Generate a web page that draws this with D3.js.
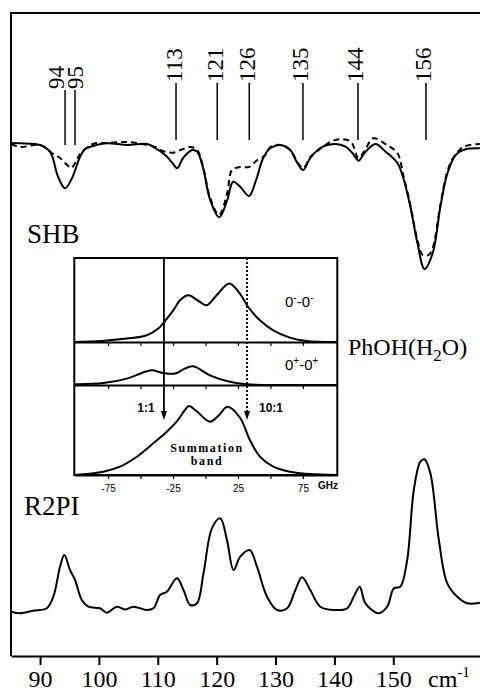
<!DOCTYPE html>
<html><head><meta charset="utf-8">
<script src="https://cdnjs.cloudflare.com/ajax/libs/d3/7.8.5/d3.min.js"></script>
<style>
html,body{margin:0;padding:0;background:#fff;}
svg{display:block;}
</style></head>
<body>
<svg id="chart" width="480" height="694"></svg>
<script>
// ---------- DATA ----------
const xTicks = [90, 100, 110, 120, 130, 140, 150];
const xUnit = "cm";
const xUnitSup = "-1";

const bandLabels = ["94", "95", "113", "121", "126", "135", "144", "156"];
const bandPositions = [94.25, 95.94, 113.1, 120.1, 125.54, 134.66, 144.0, 155.55];

// SHB spectrum, solid trace (depletion, arbitrary units)
const shbSolidFreq = [85.1, 86.6, 90.0, 91.7, 93.06, 94.25, 95.44, 96.8, 97.65, 99.0, 101.4, 104.8, 108.2, 109.56, 111.26, 112.45, 113.3, 114.3, 115.85, 116.7, 117.7, 118.9, 120.44, 121.8, 122.8, 124.0, 125.5, 126.7, 127.9, 129.1, 130.8, 132.5, 133.7, 134.7, 135.9, 137.6, 140.2, 141.9, 143.06, 144.1, 145.1, 147.0, 148.7, 150.7, 151.7, 152.9, 154.1, 155.3, 156.7, 158.0, 159.2, 160.6, 162.3, 164.7];
const shbSolidValues = [0, -0.3, -2, -8.7, -33.7, -45.3, -35, -13.7, -6, -3, -0.3, -2, -1, -5, -12, -19.7, -25.3, -15, -7, -8.7, -25, -57, -74.3, -57, -38.7, -43.7, -53, -37, -15, -5.3, -2, -7, -20, -27, -15, -5, -1, -3.7, -10, -17.7, -10, -1, -8.7, -20, -35, -63.7, -100, -126, -110, -63.7, -30.3, -12, -6.3, -5.3];

// SHB spectrum, dashed trace
const shbDashFreq = [85.1, 86.6, 90.0, 92.0, 93.4, 94.6, 95.3, 96.1, 96.8, 99.0, 101.4, 104.8, 108.2, 109.6, 110.4, 112.5, 114.3, 115.5, 116.7, 117.7, 118.9, 120.4, 121.8, 122.6, 124.0, 125.5, 126.7, 128.3, 129.1, 130.8, 132.5, 133.7, 134.7, 135.9, 137.0, 139.4, 141.1, 142.8, 144.1, 145.1, 146.6, 148.9, 150.7, 151.7, 152.9, 154.1, 155.0, 156.0, 156.7, 158.0, 159.2, 160.3, 162.0, 164.7];
const shbDashValues = [-1, -4, -2, -10, -15, -22, -25, -18.7, -11, -1, 0, 1, -2, -4, -7, -9.7, -6, -4, -7, -24, -55, -72, -50, -27, -24, -24, -18, -12, -4, -2, -7, -19, -25, -14, -8.7, 1.3, 3.7, 1.3, -15, -8, 4.7, -2, -10, -32, -62, -97, -112, -112, -105, -62, -28, -13.7, -3.7, -1];

// R2PI spectrum
const r2piFreq = [85.19, 86.6, 88.8, 91.14, 92.26, 93.4, 94.13, 95.1, 95.95, 97.09, 98.21, 100.2, 101.34, 103.04, 104.5, 105.87, 108.15, 109.27, 110.4, 111.55, 113.25, 114.37, 115.5, 116.65, 117.77, 119.2, 120.61, 121.75, 122.87, 124.0, 125.6, 126.85, 128.55, 130.26, 131.96, 133.37, 134.5, 135.9, 137.6, 139.88, 142.16, 143.28, 144.3, 145.27, 147.53, 148.96, 150.1, 151.2, 152.36, 153.49, 154.6, 155.3, 156.3, 157.74, 159.17, 160.87, 162.57, 164.7];
const r2piValues = [1.3, -0.3, 2.3, 4.7, 16.3, 46.3, 58, 43, 33, 13, 6.3, 4.7, 0.3, 6.3, 3.5, 6.3, 3, 4.7, 18, 21.3, 34.7, 23, 8, 9.7, 39.7, 84.7, 94.7, 73, 43, 56.3, 63, 46.3, 16.3, 3, 4.7, 23, 35.7, 23, 6.3, 3, 4.7, 16.3, 26.3, 9.7, -0.3, 6.3, 24.7, 26.3, 53, 123, 151.3, 153.7, 139.7, 73, 29.7, 16.3, 9.7, 10.3];

// Inset: GHz axis
const insetTicks = [-75, -50, -25, 0, 25, 50, 75];
const insetTickLabels = [-75, -25, 25, 75];
const insetUnit = "GHz";

// Inset panel 1: 0- - 0-
const p1GHz = [-101, -79.8, -60.6, -45.2, -36.3, -31.2, -24.8, -19.6, -13.2, -4.2, 0.9, 8.6, 18.3, 26.5, 32.9, 41.9, 52.2, 65, 77.8, 101];
const p1Values = [0, 1, 3.4, 6.7, 13.4, 21, 31.7, 41.7, 46.7, 40, 36.7, 46.7, 58.4, 48.4, 35, 21.7, 11.7, 4.4, 1, 0];
// Inset panel 2: 0+ - 0+
const p2GHz = [-101, -99, -78.6, -60.6, -49.1, -41.4, -32.5, -23.5, -15.8, -9.4, 3.5, 16.3, 31.7, 49.6, 101];
const p2Values = [0.7, 0.7, 2, 6.4, 12, 14.7, 12, 11.4, 16.4, 18.7, 9.7, 4, 0.7, 0, 0];
// Inset panel 3: summation band
const p3GHz = [-101, -78.6, -65.8, -52.9, -40.2, -29.8, -22.2, -15.8, -12.7, -7, 3.5, 10.5, 16.9, 26.5, 34.2, 41.9, 52.2, 65, 80.4, 101];
const p3Values = [0, 3.3, 8.3, 18.3, 31.7, 43.3, 53.3, 65, 69, 64, 53.3, 60, 68.3, 57.5, 35, 18.3, 8.3, 3.3, 1, 0];

// Inset arrows (ratios)
const arrowGHz = [-32, 32];
const arrowLabels = ["1:1", "10:1"];

// ---------- DRAW ----------
const svg = d3.select("#chart");
svg.append("rect").attr("width", 480).attr("height", 694).attr("fill", "#fff");

const serif = "'Liberation Serif','Times New Roman',serif";
const sans = "'Liberation Sans',Arial,sans-serif";

const x = d3.scaleLinear().domain([85.07, 164.73]).range([11, 480]);
const yShb = d3.scaleLinear().domain([0, -126]).range([143, 269]);
const yR2 = d3.scaleLinear().domain([0, 154]).range([613, 459]);

// frame
const frameTop = 13, axisY = 656;
svg.append("path")
  .attr("d", `M${x.range()[1]},${frameTop}H11V${axisY}`)
  .attr("fill", "none").attr("stroke", "#000").attr("stroke-width", 2);

// bottom axis
const ax = svg.append("g").attr("transform", `translate(0,${axisY})`)
  .call(d3.axisBottom(x).tickValues(xTicks).tickSize(9).tickSizeOuter(0).tickPadding(5).tickFormat(d3.format("d")));
ax.select(".domain").attr("stroke-width", 2);
ax.selectAll(".tick line").attr("stroke-width", 2);
ax.selectAll(".tick text").attr("font-family", serif).attr("font-size", 24).attr("fill", "#000");
const unit = svg.append("text").attr("x", 428).attr("y", 687)
  .attr("font-family", serif).attr("font-size", 24).text(xUnit);
unit.append("tspan").attr("font-size", 15).attr("dy", -10).text(xUnitSup);

// curves
const lineShb = (fr, vals) => d3.line().x((d, i) => x(fr[i])).y(d => yShb(d)).curve(d3.curveCatmullRom.alpha(0.5))(vals);
svg.append("path").attr("d", lineShb(shbDashFreq, shbDashValues))
  .attr("fill", "none").attr("stroke", "#000").attr("stroke-width", 2).attr("stroke-dasharray", "6,4");
svg.append("path").attr("d", lineShb(shbSolidFreq, shbSolidValues))
  .attr("fill", "none").attr("stroke", "#000").attr("stroke-width", 2);

const lineR2 = d3.line().x((d, i) => x(r2piFreq[i])).y(d => yR2(d)).curve(d3.curveCatmullRom.alpha(0.5));
svg.append("path").attr("d", lineR2(r2piValues))
  .attr("fill", "none").attr("stroke", "#000").attr("stroke-width", 2);

// band markers
bandLabels.forEach((lab, i) => {
  const px = x(bandPositions[i]);
  const low = i < 2;
  const top = low ? 90 : 83;
  const bot = low ? 145 : 140;
  svg.append("line").attr("x1", px).attr("x2", px).attr("y1", top).attr("y2", bot)
    .attr("stroke", "#000").attr("stroke-width", 1.5);
  const tx = i === 0 ? px - 9 : (i === 1 ? px + 1 : px - 2);
  svg.append("text")
    .attr("transform", `translate(${tx},${top - 1}) rotate(-90)`)
    .attr("dominant-baseline", "central")
    .attr("font-family", serif).attr("font-size", 23).text(lab);
});

// series labels
svg.append("text").attr("x", 27).attr("y", 243).attr("font-family", serif).attr("font-size", 27).text("SHB");
svg.append("text").attr("x", 24).attr("y", 515).attr("font-family", serif).attr("font-size", 27).text("R2PI");
const ph = svg.append("text").attr("x", 348).attr("y", 355).attr("font-family", serif).attr("font-size", 24);
ph.append("tspan").text("PhOH(H");
ph.append("tspan").attr("font-size", 17).attr("dy", 6).text("2");
ph.append("tspan").attr("dy", -6).text("O)");

// ---------- INSET ----------
const xi = d3.scaleLinear().domain([-101, 101.5]).range([74.3, 337.3]);
const panels = [
  {top: 258, bot: 342, g: p1GHz, v: p1Values},
  {top: 342, bot: 385, g: p2GHz, v: p2Values},
  {top: 385, bot: 475, g: p3GHz, v: p3Values}
];
panels.forEach(p => {
  const yy = d3.scaleLinear().domain([0, 1]).range([p.bot, p.bot - 1]);
  const ln = d3.line().x((d, i) => xi(p.g[i])).y(d => yy(d)).curve(d3.curveCatmullRom.alpha(0.5));
  svg.append("path").attr("d", ln(p.v)).attr("fill", "none").attr("stroke", "#000").attr("stroke-width", 2);
  const a = svg.append("g").attr("transform", `translate(0,${p.bot})`)
    .call(d3.axisBottom(xi).tickValues(insetTicks).tickSize(4).tickSizeOuter(0)
      .tickFormat(d => (p.bot === 475 && insetTickLabels.includes(d)) ? String(d) : ""));
  a.select(".domain").attr("stroke-width", 2);
  a.selectAll(".tick line").attr("stroke-width", 1.2);
  a.selectAll(".tick text").attr("font-family", sans).attr("font-size", 10).attr("fill", "#000").attr("dy", "0.95em");
});
// inset border
svg.append("rect").attr("x", xi.range()[0]).attr("y", 258)
  .attr("width", xi.range()[1] - xi.range()[0]).attr("height", 475 - 258)
  .attr("fill", "none").attr("stroke", "#000").attr("stroke-width", 2);
svg.append("text").attr("x", 318).attr("y", 489).attr("font-family", sans).attr("font-size", 10).attr("font-weight", "bold").text(insetUnit);

// arrows
arrowGHz.forEach((g, i) => {
  const px = xi(g);
  svg.append("line").attr("x1", px).attr("x2", px).attr("y1", 258).attr("y2", 413)
    .attr("stroke", "#000").attr("stroke-width", i === 0 ? 1.8 : 2)
    .attr("stroke-dasharray", i === 0 ? null : "2,2");
  svg.append("path").attr("d", `M${px - 3},${411}L${px + 3},${411}L${px},${420}Z`).attr("fill", "#000");
});
svg.append("text").attr("x", 146).attr("y", 412).attr("text-anchor", "middle")
  .attr("font-family", sans).attr("font-weight", "bold").attr("font-size", 12).text(arrowLabels[0]);
svg.append("text").attr("x", 271).attr("y", 412).attr("text-anchor", "middle")
  .attr("font-family", sans).attr("font-weight", "bold").attr("font-size", 12).text(arrowLabels[1]);

// panel labels
const l1 = svg.append("text").attr("x", 285).attr("y", 307).attr("font-family", sans).attr("font-size", 15);
l1.append("tspan").text("0"); l1.append("tspan").attr("font-size", 10).attr("dy", -6).text("-");
l1.append("tspan").attr("dy", 6).text("-0"); l1.append("tspan").attr("font-size", 10).attr("dy", -6).text("-");
const l2 = svg.append("text").attr("x", 285).attr("y", 370).attr("font-family", sans).attr("font-size", 15);
l2.append("tspan").text("0"); l2.append("tspan").attr("font-size", 10).attr("dy", -6).text("+");
l2.append("tspan").attr("dy", 6).text("-0"); l2.append("tspan").attr("font-size", 10).attr("dy", -6).text("+");

svg.append("text").attr("x", 207).attr("y", 452).attr("text-anchor", "middle")
  .attr("font-family", serif).attr("font-weight", "bold").attr("font-size", 12).attr("letter-spacing", 1.6).text("Summation");
svg.append("text").attr("x", 207).attr("y", 465).attr("text-anchor", "middle")
  .attr("font-family", serif).attr("font-weight", "bold").attr("font-size", 12).attr("letter-spacing", 1.6).text("band");
</script>
</body></html>
